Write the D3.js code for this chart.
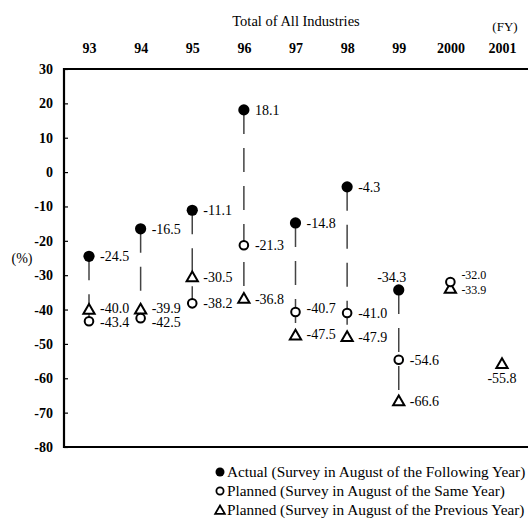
<!DOCTYPE html>
<html>
<head>
<meta charset="utf-8">
<script src="https://cdn.jsdelivr.net/npm/d3@7"></script>
<style>
  body { margin: 0; background: #fff; }
  text { font-family: "Liberation Serif", "DejaVu Serif", serif; fill: #000; }
</style>
</head>
<body>
<div id="chart"></div>
<script>
// fiscal years and survey series (null = no value)
var years = ["93", "94", "95", "96", "97", "98", "99", "2000", "2001"];
var actual = [-24.5, -16.5, -11.1, 18.1, -14.8, -4.3, -34.3, null, null];
var plannedSame = [-43.4, -42.5, -38.2, -21.3, -40.7, -41.0, -54.6, -32.0, null];
var plannedPrev = [-40.0, -39.9, -30.5, -36.8, -47.5, -47.9, -66.6, -33.9, -55.8];
var yTicks = [30, 20, 10, 0, -10, -20, -30, -40, -50, -60, -70, -80];
var legendLabels = [
    "Actual (Survey in August of the Following Year)",
    "Planned (Survey in August of the Same Year)",
    "Planned (Survey in August of the Previous Year)"
];

var width = 528, height = 525;
var plot = { left: 64, right: 528, top: 69, bottom: 447 };

// plain hyphen for negatives, as in the original
function fmt(spec) {
    var f = d3.format(spec);
    return function (v) { return f(v).replace("\u2212", "-"); };
}

var svg = d3.select("#chart")
    .append("svg")
    .attr("width", width)
    .attr("height", height);

var x = d3.scalePoint()
    .domain(years)
    .range([89, 502]);

var y = d3.scaleLinear()
    .domain([-80, 30])
    .range([plot.bottom, plot.top]);

// title and unit labels
svg.append("text")
    .attr("x", 296).attr("y", 26)
    .attr("text-anchor", "middle")
    .style("font-size", "14.5px")
    .text("Total of All Industries");

svg.append("text")
    .attr("x", 505).attr("y", 31)
    .attr("text-anchor", "middle")
    .style("font-size", "13px")
    .text("(FY)");

svg.append("text")
    .attr("x", 22).attr("y", 263)
    .attr("text-anchor", "middle")
    .style("font-size", "14px")
    .text("(%)");

// year labels along the top
var xAxis = svg.append("g")
    .attr("transform", "translate(0," + plot.top + ")")
    .call(d3.axisTop(x).tickSize(0).tickPadding(16));
xAxis.select(".domain").remove();
xAxis.selectAll("text")
    .style("font-size", "14px")
    .style("font-weight", "bold");

// y axis with inner ticks
var yAxis = svg.append("g")
    .attr("transform", "translate(" + plot.left + ",0)")
    .call(d3.axisLeft(y).tickValues(yTicks).tickSize(-4).tickPadding(11).tickFormat(fmt("d")));
yAxis.select(".domain").remove();
yAxis.selectAll("line").attr("stroke", "#000").attr("stroke-width", 1.2);
yAxis.selectAll("text")
    .style("font-size", "14px")
    .style("font-weight", "bold");

// frame: top, bottom, left
svg.append("line")
    .attr("x1", plot.left).attr("x2", plot.right)
    .attr("y1", plot.top).attr("y2", plot.top)
    .attr("stroke", "#000").attr("stroke-width", 2.2);
svg.append("line")
    .attr("x1", plot.left).attr("x2", plot.right)
    .attr("y1", plot.bottom).attr("y2", plot.bottom)
    .attr("stroke", "#000").attr("stroke-width", 2.2);
svg.append("line")
    .attr("x1", plot.left).attr("x2", plot.left)
    .attr("y1", plot.top - 1).attr("y2", plot.bottom + 1)
    .attr("stroke", "#000").attr("stroke-width", 2.2);

// dashed connectors, one per year from highest to lowest value
var rows = years.map(function (yr, i) {
    var vals = [actual[i], plannedSame[i], plannedPrev[i]].filter(function (v) { return v != null; });
    return { year: yr, hi: d3.max(vals), lo: d3.min(vals), n: vals.length };
}).filter(function (d) { return d.n > 1 && d.hi - d.lo > 3; });

svg.append("g").selectAll("line")
    .data(rows)
    .enter()
    .append("line")
    .attr("x1", function (d) { return x(d.year); })
    .attr("x2", function (d) { return x(d.year); })
    .attr("y1", function (d) { return y(d.hi); })
    .attr("y2", function (d) { return y(d.lo); })
    .attr("stroke", "#444")
    .attr("stroke-width", 1.5)
    .attr("stroke-dasharray", "24,14");

function pts(arr) {
    return arr.map(function (v, i) { return { year: years[i], value: v, i: i }; })
        .filter(function (d) { return d.value != null; });
}

var triangle = d3.symbol().type(d3.symbolTriangle).size(55);

// markers
svg.append("g").selectAll("path")
    .data(pts(plannedPrev))
    .enter()
    .append("path")
    .attr("d", triangle)
    .attr("transform", function (d) { return "translate(" + x(d.year) + "," + (y(d.value) + 1) + ")"; })
    .attr("fill", "#fff")
    .attr("stroke", "#000")
    .attr("stroke-width", 2);

svg.append("g").selectAll("circle")
    .data(pts(plannedSame))
    .enter()
    .append("circle")
    .attr("cx", function (d) { return x(d.year); })
    .attr("cy", function (d) { return y(d.value); })
    .attr("r", 4.3)
    .attr("fill", "#fff")
    .attr("stroke", "#000")
    .attr("stroke-width", 2);

svg.append("g").selectAll("circle")
    .data(pts(actual))
    .enter()
    .append("circle")
    .attr("cx", function (d) { return x(d.year); })
    .attr("cy", function (d) { return y(d.value); })
    .attr("r", 5.6)
    .attr("fill", "#000");

// value labels (offsets nudge crowded ones apart)
var labelShift = {
    "a6": [-7, -13, "middle"],
    "s0": [0, 1], "p0": [0, -2],
    "s1": [0, 4], "p1": [0, -1],
    "s4": [0, -4], "p4": [0, -1],
    "s7": [0, -8, "start", 12], "p7": [0, 0, "start", 12],
    "p8": [0, 14, "middle"]
};

function addLabels(arr, key) {
    var f = fmt(".1f");
    svg.append("g").selectAll("text")
        .data(pts(arr))
        .enter()
        .append("text")
        .attr("x", function (d) {
            var s = labelShift[key + d.i];
            return x(d.year) + (s && s[2] === "middle" ? s[0] : 11);
        })
        .attr("y", function (d) {
            var s = labelShift[key + d.i];
            return y(d.value) + 5 + (s ? s[1] : 0);
        })
        .attr("text-anchor", function (d) {
            var s = labelShift[key + d.i];
            return s && s[2] ? s[2] : "start";
        })
        .style("font-size", function (d) {
            var s = labelShift[key + d.i];
            return (s && s[3] ? s[3] : 14) + "px";
        })
        .text(function (d) { return f(d.value); });
}
addLabels(actual, "a");
addLabels(plannedSame, "s");
addLabels(plannedPrev, "p");

// legend
var legend = svg.append("g").attr("transform", "translate(220,0)");
var legendY = [472, 491, 510];

legend.append("circle").attr("cx", 0).attr("cy", legendY[0]).attr("r", 4.5).attr("fill", "#000");
legend.append("circle").attr("cx", 0).attr("cy", legendY[1]).attr("r", 3.6)
    .attr("fill", "#fff").attr("stroke", "#000").attr("stroke-width", 1.8);
legend.append("path").attr("d", d3.symbol().type(d3.symbolTriangle).size(40))
    .attr("transform", "translate(0," + (legendY[2] + 1) + ")")
    .attr("fill", "#fff").attr("stroke", "#000").attr("stroke-width", 1.8);

legend.selectAll(".lg")
    .data(legendLabels)
    .enter()
    .append("text")
    .attr("x", 7)
    .attr("y", function (d, i) { return legendY[i] + 5; })
    .style("font-size", "15.3px")
    .text(function (d) { return d; });
</script>
</body>
</html>
